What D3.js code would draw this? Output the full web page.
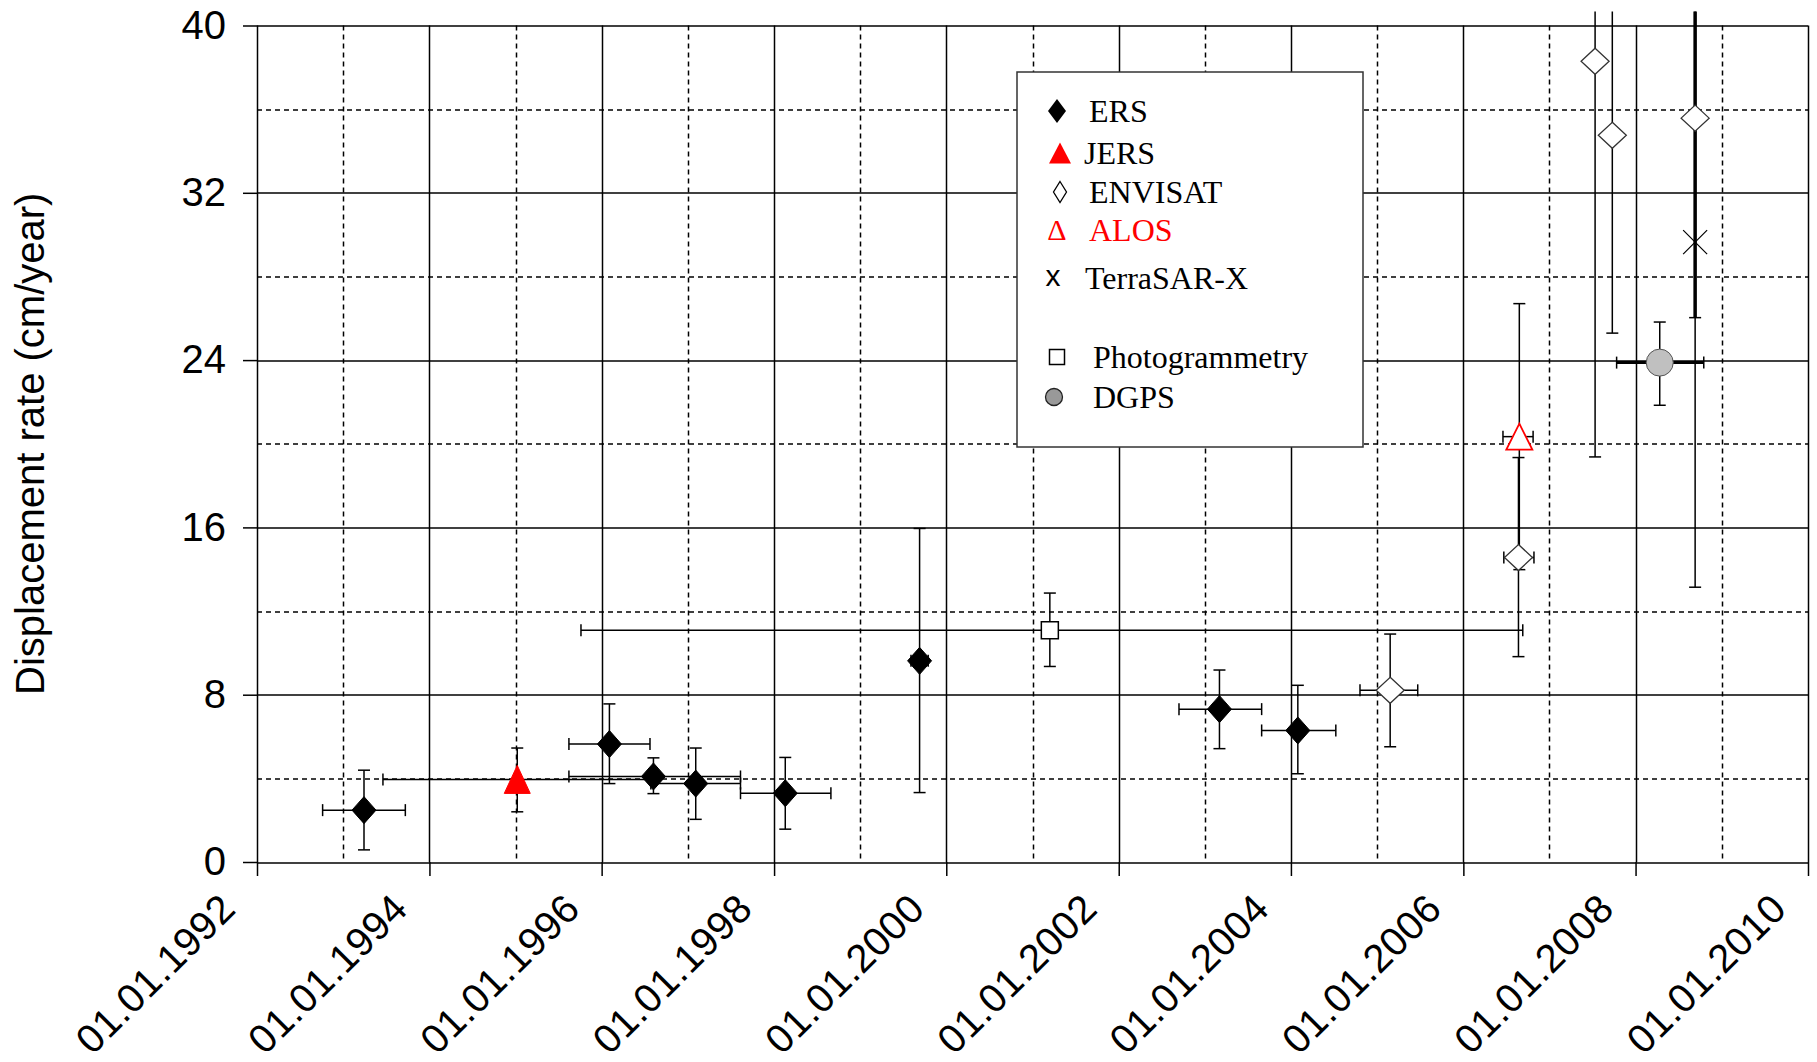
<!DOCTYPE html>
<html>
<head>
<meta charset="utf-8">
<script src="https://cdn.jsdelivr.net/npm/d3@7/dist/d3.min.js"></script>
<style>
  body { margin: 0; background: #fff; }
  svg { display: block; }
</style>
</head>
<body>
<svg width="1817" height="1062"></svg>
<script>
var pointSeries = ["ERS", "JERS", "ERS", "ERS", "ERS", "ERS", "ERS", "Photogrammetry", "ERS", "ERS",
    "ENVISAT", "ENVISAT", "ALOS", "ENVISAT", "ENVISAT", "ENVISAT", "TerraSAR-X", "DGPS"];
var pointYear = [1993.24, 1995.02, 1996.09, 1996.60, 1997.09, 1998.13, 1999.69, 2001.20, 2003.17, 2004.08,
    2005.15, 2006.64, 2006.65, 2007.53, 2007.73, 2008.69, 2008.69, 2008.28];
var yearLow = [1992.76, 1993.46, 1995.62, 1995.62, 1996.57, 1997.61, 1999.59, 1995.76, 2002.70, 2003.66,
    2004.80, 2006.47, 2006.46, null, null, null, null, 2007.78];
var yearHigh = [1993.72, 1996.58, 1996.56, 1997.61, 1997.61, 1998.66, 1999.79, 2006.69, 2003.66, 2004.52,
    2005.47, 2006.82, 2006.81, null, null, null, null, 2008.79];
var rate = [2.48, 3.95, 5.64, 4.09, 3.75, 3.29, 9.62, 11.08, 7.31, 6.29,
    8.21, 14.56, 20.34, 38.29, 34.75, 35.57, 29.64, 23.88];
var rateLow = [0.58, 2.40, 3.75, 3.27, 2.04, 1.57, 3.32, 9.35, 5.42, 4.22,
    5.51, 9.82, 13.98, 19.37, 25.29, 13.14, 26.03, 21.84];
var rateHigh = [4.39, 5.45, 7.56, 4.98, 5.45, 5.00, 15.95, 12.86, 9.18, 8.45,
    10.90, 19.34, 26.70, 57.2, 44.2, 58.0, 45.0, 25.82];

var legendNames = ["ERS", "JERS", "ENVISAT", "ALOS", "TerraSAR-X", "Photogrammetry", "DGPS"];
var xTickYears = [1992, 1994, 1996, 1998, 2000, 2002, 2004, 2006, 2008, 2010];
var yTickValues = [0, 8, 16, 24, 32, 40];

// marker look per series
var look = {
    "ERS": { shape: "diamond", w: 12, h: 13.5, fill: "#000", stroke: "#000", sw: 1 },
    "JERS": { shape: "triangle", w: 13, h: 14, fill: "#ff0000", stroke: "#ff0000", sw: 1 },
    "ENVISAT": { shape: "diamond", w: 14, h: 13, fill: "#fff", stroke: "#333", sw: 1.3 },
    "ALOS": { shape: "triangle", w: 13, h: 13, fill: "#fff", stroke: "#ff0000", sw: 1.8 },
    "TerraSAR-X": { shape: "cross", w: 12, h: 12, fill: "none", stroke: "#000", sw: 1.2 },
    "Photogrammetry": { shape: "square", w: 8.5, h: 8.5, fill: "#fff", stroke: "#000", sw: 1.5 },
    "DGPS": { shape: "circle", w: 13.5, h: 13.5, fill: "#c0c0c0", stroke: "#555", sw: 1 }
};
var barWidth = { "TerraSAR-X": [1.5, 3.5], "DGPS": [3, 1.5] }; // [horizontal, vertical]

function toDate(y) {
    var yr = Math.floor(y);
    var start = new Date(yr, 0, 1), end = new Date(yr + 1, 0, 1);
    return new Date(+start + (y - yr) * (end - start));
}

function shapePath(s, w, h) {
    if (s == "diamond") return "M0," + (-h) + "L" + w + ",0L0," + h + "L" + (-w) + ",0Z";
    if (s == "triangle") return "M0," + (-h) + "L" + w + "," + h + "L" + (-w) + "," + h + "Z";
    if (s == "square") return "M" + (-w) + "," + (-h) + "H" + w + "V" + h + "H" + (-w) + "Z";
    if (s == "cross") return "M" + (-w) + "," + (-h) + "L" + w + "," + h + "M" + (-w) + "," + h + "L" + w + "," + (-h);
    return "";
}

var svg = d3.select("svg"),
    margin = { top: 25.5, right: 9, bottom: 200, left: 257 },
    width = 1817 - margin.left - margin.right,
    height = 862 - margin.top;

var x = d3.scaleTime()
    .domain([toDate(1992), toDate(2010)])
    .range([0, width]);
var y = d3.scaleLinear()
    .domain([0, 40])
    .range([height, 0]);

var g = svg.append("g").attr("transform", "translate(" + margin.left + "," + margin.top + ")");

// grid
var years = d3.range(1992, 2011);
g.append("g").selectAll("line")
    .data(years)
    .enter().append("line")
    .attr("x1", function(d) { return Math.round(x(toDate(d))) + 0.5; })
    .attr("x2", function(d) { return Math.round(x(toDate(d))) + 0.5; })
    .attr("y1", 0).attr("y2", height)
    .attr("stroke", "#000")
    .attr("stroke-width", 1.5)
    .attr("stroke-dasharray", function(d) { return d % 2 ? "5,4" : null; });

var levels = d3.range(0, 41, 4);
g.append("g").selectAll("line")
    .data(levels)
    .enter().append("line")
    .attr("y1", function(d) { return Math.round(y(d)) + 0.5; })
    .attr("y2", function(d) { return Math.round(y(d)) + 0.5; })
    .attr("x1", 0).attr("x2", width)
    .attr("stroke", "#000")
    .attr("stroke-width", 1.5)
    .attr("stroke-dasharray", function(d) { return d % 8 ? "5,4" : null; });

// axes
var xAxis = g.append("g")
    .attr("transform", "translate(0," + height + ")")
    .call(d3.axisBottom(x)
        .tickValues(xTickYears.map(toDate))
        .tickFormat(d3.timeFormat("%d.%m.%Y"))
        .tickSize(14));
xAxis.select(".domain").remove();
xAxis.selectAll("line").attr("stroke", "#000").attr("stroke-width", 1.5);
xAxis.selectAll("text")
    .attr("x", 0).attr("y", 0).attr("dy", 0)
    .attr("transform", "translate(-20,49) rotate(-45)")
    .style("text-anchor", "end")
    .style("font-family", "'Liberation Sans', Arial, sans-serif")
    .style("font-size", "40px")
    .style("letter-spacing", "0.5px")
    .style("fill", "#000");

var yAxis = g.append("g")
    .call(d3.axisLeft(y)
        .tickValues(yTickValues)
        .tickSize(14)
        .tickPadding(17));
yAxis.select(".domain").remove();
yAxis.selectAll("line").attr("stroke", "#000").attr("stroke-width", 1.5);
yAxis.selectAll("text")
    .style("font-family", "'Liberation Sans', Arial, sans-serif")
    .style("font-size", "40px")
    .style("fill", "#000");

svg.append("text")
    .attr("transform", "translate(44," + (margin.top + height / 2) + ") rotate(-90)")
    .style("text-anchor", "middle")
    .style("font-family", "'Liberation Sans', Arial, sans-serif")
    .style("font-size", "40px")
    .text("Displacement rate (cm/year)");

// error bars, cut a little above the frame
svg.append("defs").append("clipPath").attr("id", "barclip")
    .append("rect")
    .attr("x", -20).attr("width", width + 40)
    .attr("y", y(40.67)).attr("height", height - y(40.67) + 20);

var points = pointSeries.map(function(s, i) {
    return { series: s, t: pointYear[i], tLo: yearLow[i], tHi: yearHigh[i], v: rate[i], vLo: rateLow[i], vHi: rateHigh[i] };
});

var bars = g.append("g").attr("clip-path", "url(#barclip)");
var cap = 6;
points.forEach(function(d) {
    var bw = barWidth[d.series] || [1.5, 1.5];
    var px = x(toDate(d.t)), py = y(d.v);
    var yl = y(d.vLo), yh = y(d.vHi);
    bars.append("line").attr("x1", px).attr("x2", px).attr("y1", yl).attr("y2", yh)
        .attr("stroke", "#000").attr("stroke-width", bw[1]);
    [d.vLo, d.vHi].forEach(function(v) {
        if (v <= 40) {
            bars.append("line").attr("x1", px - cap).attr("x2", px + cap)
                .attr("y1", y(v)).attr("y2", y(v))
                .attr("stroke", "#000").attr("stroke-width", 1.5);
        }
    });
    if (d.tLo != null) {
        var xl = x(toDate(d.tLo)), xh = x(toDate(d.tHi));
        bars.append("line").attr("x1", xl).attr("x2", xh).attr("y1", py).attr("y2", py)
            .attr("stroke", "#000").attr("stroke-width", bw[0]);
        [xl, xh].forEach(function(xx) {
            bars.append("line").attr("x1", xx).attr("x2", xx)
                .attr("y1", py - cap).attr("y2", py + cap)
                .attr("stroke", "#000").attr("stroke-width", 1.5);
        });
    }
});

// markers
var marks = g.append("g").selectAll("g")
    .data(points)
    .enter().append("g")
    .attr("transform", function(d) { return "translate(" + x(toDate(d.t)) + "," + y(d.v) + ")"; });
marks.each(function(d) {
    var m = look[d.series], sel = d3.select(this);
    if (m.shape == "circle") {
        sel.append("circle").attr("r", m.w)
            .attr("fill", m.fill).attr("stroke", m.stroke).attr("stroke-width", m.sw);
    } else {
        sel.append("path").attr("d", shapePath(m.shape, m.w, m.h))
            .attr("fill", m.fill).attr("stroke", m.stroke).attr("stroke-width", m.sw);
    }
});

// legend
var legendY = [111, 153, 192, 230, 278, 357, 397];
var legendTextX = [1089, 1084, 1089, 1089, 1085, 1093, 1093];
var leg = svg.append("g");
leg.append("rect")
    .attr("x", 1017).attr("y", 72).attr("width", 346).attr("height", 375)
    .attr("fill", "#fff").attr("stroke", "#333").attr("stroke-width", 1.5);

legendNames.forEach(function(name, i) {
    var cy = legendY[i], cx = 1057;
    var item = leg.append("g").attr("transform", "translate(" + cx + "," + cy + ")");
    if (name == "ERS") item.append("path").attr("d", shapePath("diamond", 9, 12)).attr("fill", "#000");
    if (name == "JERS") item.append("path").attr("d", shapePath("triangle", 11, 10.5)).attr("fill", "#ff0000")
        .attr("transform", "translate(3,0)");
    if (name == "ENVISAT") item.append("path").attr("d", shapePath("diamond", 6.5, 10.5))
        .attr("fill", "#fff").attr("stroke", "#000").attr("stroke-width", 1.3).attr("transform", "translate(3,0)");
    if (name == "ALOS") item.append("text").text("\u0394").attr("text-anchor", "middle").attr("y", 10)
        .style("font-family", "'Liberation Serif', 'Times New Roman', serif").style("font-size", "30px")
        .style("fill", "#ff0000");
    if (name == "TerraSAR-X") item.append("text").text("x").attr("text-anchor", "middle").attr("x", -4).attr("y", 8)
        .style("font-family", "'Liberation Sans', Arial, sans-serif").style("font-size", "30px");
    if (name == "Photogrammetry") item.append("path").attr("d", shapePath("square", 7.5, 7.5))
        .attr("fill", "#fff").attr("stroke", "#000").attr("stroke-width", 1.5);
    if (name == "DGPS") item.append("circle").attr("r", 8.5).attr("cx", -3)
        .attr("fill", "#999").attr("stroke", "#222").attr("stroke-width", 1.3);

    leg.append("text")
        .attr("x", legendTextX[i])
        .attr("y", cy + 10.5)
        .style("font-family", "'Liberation Serif', 'Times New Roman', serif")
        .style("font-size", "32px")
        .style("fill", name == "ALOS" ? "#ff0000" : "#000")
        .text(name);
});
</script>
</body>
</html>
